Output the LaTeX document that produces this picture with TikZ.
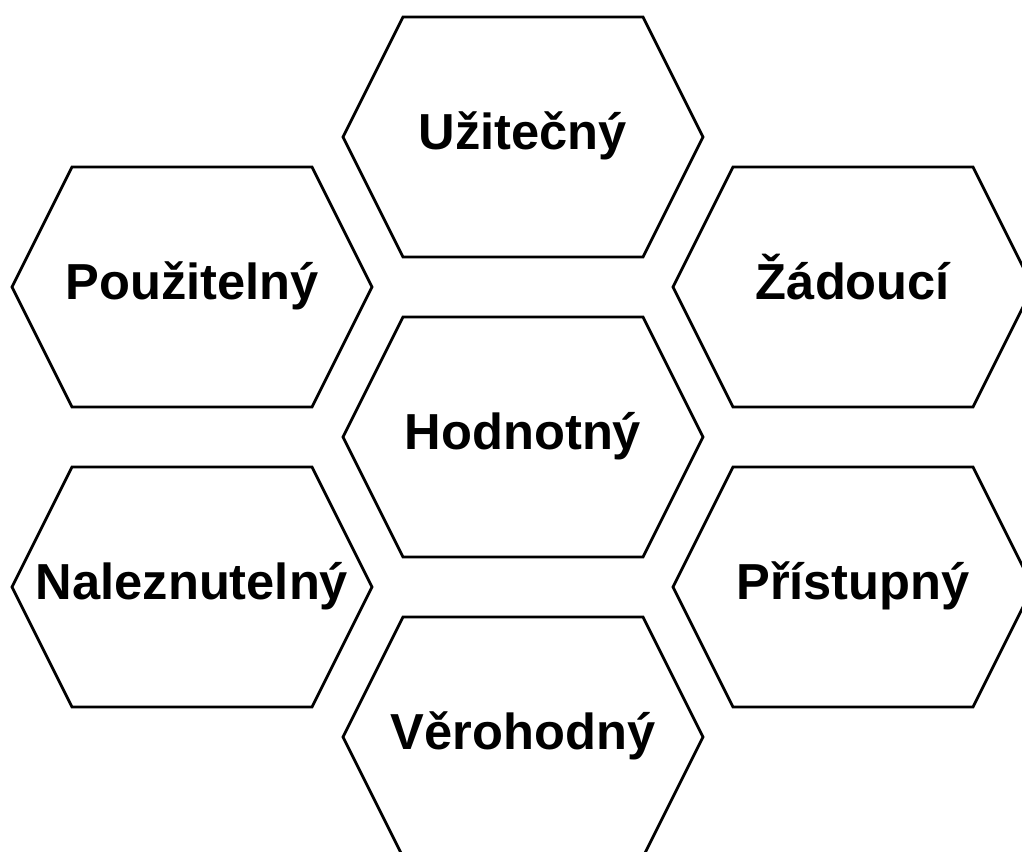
\documentclass[tikz,border=0pt]{standalone}
\usepackage{fontspec}
\setmainfont{Liberation Sans}
\tikzset{
  hexa/.style={line width=2pt, black, line join=miter},
  word/.style={anchor=base, inner sep=0pt, font=\fontsize{36}{43}\selectfont\bfseries},
}
\begin{document}
\begin{tikzpicture}[x=0.025cm, y=-0.025cm]
\clip (0,0) rectangle (1022,852);
% middle column
\draw[hexa] (343,137) -- ++(60,-120) -- ++(240,0) -- ++(60,120) -- ++(-60,120) -- ++(-240,0) -- cycle;
\draw[hexa] (343,437) -- ++(60,-120) -- ++(240,0) -- ++(60,120) -- ++(-60,120) -- ++(-240,0) -- cycle;
\draw[hexa] (343,737) -- ++(60,-120) -- ++(240,0) -- ++(60,120) -- ++(-60,120) -- ++(-240,0) -- cycle;
% left column
\draw[hexa] (12,287) -- ++(60,-120) -- ++(240,0) -- ++(60,120) -- ++(-60,120) -- ++(-240,0) -- cycle;
\draw[hexa] (12,587) -- ++(60,-120) -- ++(240,0) -- ++(60,120) -- ++(-60,120) -- ++(-240,0) -- cycle;
% right column
\draw[hexa] (673,287) -- ++(60,-120) -- ++(240,0) -- ++(60,120) -- ++(-60,120) -- ++(-240,0) -- cycle;
\draw[hexa] (673,587) -- ++(60,-120) -- ++(240,0) -- ++(60,120) -- ++(-60,120) -- ++(-240,0) -- cycle;

\node[word] (uzitecny) at (523,150) {Užitečný};
\node[word] (hodnotny) at (523,450) {Hodnotný};
\node[word] (verohodny) at (523,750) {Věrohodný};
\node[word] (pouzitelny) at (192,300) {Použitelný};
\node[word] (naleznutelny) at (192,600) {Naleznutelný};
\node[word] (zadouci) at (853,300) {Žádoucí};
\node[word] (pristupny) at (853,600) {Přístupný};
\end{tikzpicture}
\end{document}
